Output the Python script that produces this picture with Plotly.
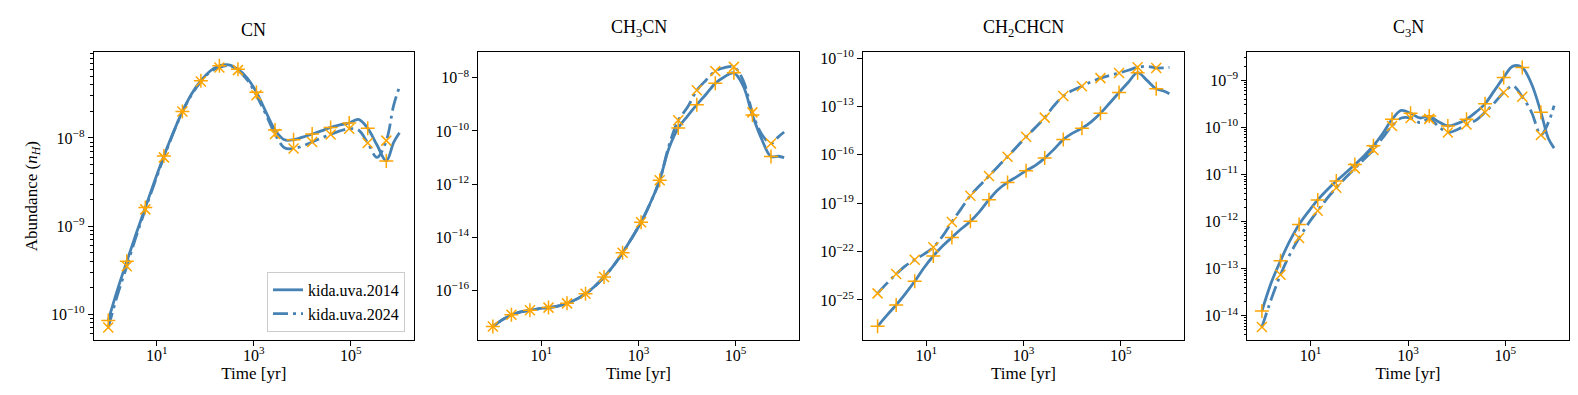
import numpy as np
import plotly.graph_objects as go

# temps (yr) ; marqueurs sur un point sur deux
time = [1, 1.55, 2.41, 3.74, 5.8, 9.0, 14, 21.7, 33.7, 52, 81, 126, 195, 303, 470, 730,
        1130, 1760, 2730, 4240, 6580, 10200, 15900, 24600, 38200, 59400, 92200,
        143000, 222000, 345000, 536000, 760000, 1000000]

# log10 des abondances
cn_2014 = [-10.07, -9.72, -9.40, -9.09, -8.79, -8.49, -8.205, -7.94, -7.70, -7.50, -7.35,
           -7.24, -7.18, -7.17, -7.22, -7.32, -7.48, -7.70, -7.91, -8.02, -8.02, -7.99,
           -7.955, -7.92, -7.88, -7.85, -7.83, -7.79, -7.89, -8.08, -8.26, -8.05, -7.94]
cn_2024 = [-10.15, -9.78, -9.455, -9.12, -8.81, -8.51, -8.22, -7.95, -7.70, -7.51, -7.36,
           -7.25, -7.20, -7.18, -7.23, -7.34, -7.515, -7.73, -7.955, -8.11, -8.12, -8.09,
           -8.045, -8.00, -7.96, -7.92, -7.895, -7.91, -8.056, -8.22, -8.03, -7.63, -7.42]

ch3cn_2014 = [-17.35, -17.10, -16.91, -16.80, -16.74, -16.68, -16.64, -16.58, -16.48, -16.33,
              -16.12, -15.84, -15.49, -15.07, -14.58, -14.02, -13.43, -12.70, -11.85, -10.65,
              -9.89, -9.44, -9.01, -8.62, -8.21, -7.96, -7.815, -8.30, -9.40, -10.31, -10.96,
              -10.95, -11.0]
ch3cn_2024 = [-17.35, -17.10, -16.91, -16.80, -16.74, -16.68, -16.64, -16.58, -16.48, -16.33,
              -16.12, -15.84, -15.49, -15.07, -14.58, -14.02, -13.43, -12.70, -11.85, -10.55,
              -9.60, -9.11, -8.47, -8.09, -7.75, -7.62, -7.59, -8.10, -9.30, -10.12, -10.47,
              -10.22, -10.04]

ch2chcn_2014 = [-26.63, -25.95, -25.31, -24.6, -23.84, -23.0, -22.27, -21.65, -21.12, -20.6,
                -20.12, -19.5, -18.78, -18.15, -17.71, -17.35, -16.98, -16.65, -16.2, -15.65,
                -15.05, -14.65, -14.35, -13.95, -13.42, -12.78, -12.13, -11.5, -10.9, -11.38,
                -11.90, -12.04, -12.21]
ch2chcn_2024 = [-24.59, -23.97, -23.39, -22.88, -22.51, -22.16, -21.73, -21.04, -20.16, -19.35,
                -18.53, -17.9, -17.31, -16.7, -16.12, -15.5, -14.88, -14.3, -13.69, -12.95,
                -12.35, -12.0, -11.74, -11.47, -11.24, -11.07, -10.92, -10.75, -10.57, -10.51,
                -10.61, -10.6, -10.57]

c3n_2014 = [-13.90, -13.30, -12.83, -12.41, -12.06, -11.79, -11.54, -11.33, -11.14, -10.97,
            -10.79, -10.60, -10.39, -10.13, -9.83, -9.64, -9.70, -9.80, -9.76, -9.88, -9.97,
            -9.92, -9.83, -9.68, -9.50, -9.22, -8.94, -8.70, -8.73, -9.08, -9.68, -10.23, -10.44]
c3n_2024 = [-14.24, -13.65, -13.13, -12.70, -12.35, -12.04, -11.77, -11.51, -11.28, -11.07,
            -10.87, -10.67, -10.48, -10.22, -9.97, -9.80, -9.80, -9.90, -9.82, -9.98, -10.11,
            -10.05, -9.94, -9.85, -9.68, -9.48, -9.26, -9.12, -9.35, -9.68, -10.16, -9.90, -9.54]

especes = ["CN", "CH<sub>3</sub>CN", "CH<sub>2</sub>CHCN", "C<sub>3</sub>N"]
series = [(cn_2014, cn_2024), (ch3cn_2014, ch3cn_2024),
          (ch2chcn_2014, ch2chcn_2024), (c3n_2014, c3n_2024)]
y_ticks = [[-10, -9, -8], [-16, -14, -12, -10, -8],
           [-25, -22, -19, -16, -13, -10], [-14, -13, -12, -11, -10, -9]]
y_ranges = [[-10.29, -7.03], [-17.85, -7.05], [-27.47, -9.65], [-14.51, -8.41]]
x_ticks = [1, 3, 5]

W, H = 1578, 395
boxes = [(85.7, 406.0), (470.3, 790.7), (855.0, 1176.0), (1239.3, 1560.7)]
y_dom = [1 - 331 / H, 1 - 40 / H]

bleu = "#4682B4"
orange = "orange"
police = "Liberation Serif"

fig = go.Figure()

for i, (nom, (s14, s24)) in enumerate(zip(especes, series)):
    xa = "x" if i == 0 else "x%d" % (i + 1)
    ya = "y" if i == 0 else "y%d" % (i + 1)
    y14 = [10 ** v for v in s14]
    y24 = [10 ** v for v in s24]
    fig.add_trace(go.Scatter(x=time, y=y14, mode="lines", name="kida.uva.2014",
                             line=dict(color=bleu, width=2.8, shape="spline", smoothing=1),
                             showlegend=(i == 0), xaxis=xa, yaxis=ya))
    fig.add_trace(go.Scatter(x=time, y=y24, mode="lines", name="kida.uva.2024",
                             line=dict(color=bleu, width=2.8, shape="spline", smoothing=1,
                                       dash="15px,5px,3px,5px"),
                             showlegend=(i == 0), xaxis=xa, yaxis=ya))
    fig.add_trace(go.Scatter(x=time[0:31:2], y=y14[0:31:2], mode="markers", showlegend=False,
                             marker=dict(symbol="cross-thin", size=10, line=dict(color=orange, width=1.5)),
                             xaxis=xa, yaxis=ya))
    fig.add_trace(go.Scatter(x=time[0:31:2], y=y24[0:31:2], mode="markers", showlegend=False,
                             marker=dict(symbol="x-thin", size=10, line=dict(color=orange, width=1.5)),
                             xaxis=xa, yaxis=ya))

    x0, x1 = boxes[i]
    suffixe = "" if i == 0 else str(i + 1)
    minor = {}
    if i in (0, 3):
        mv = [k * 10.0 ** n for n in range(-15, -6) for k in range(2, 10)]
        minor = dict(tickvals=mv, ticks="outside", ticklen=2.5, tickcolor="black", tickwidth=0.8)
    fig.layout["xaxis" + suffixe] = dict(
        domain=[x0 / W, x1 / W], anchor=ya, type="log", range=[-0.3, 6.3],
        tickvals=[10 ** e for e in x_ticks], ticktext=["10<sup>%d</sup>" % e for e in x_ticks],
        ticks="outside", ticklen=5, tickcolor="black", showgrid=False, zeroline=False,
        showline=True, mirror=True, linecolor="black", linewidth=1, ticklabelstandoff=-4,
        title=dict(text="Time [yr]", font=dict(size=17, family=police, color="black"), standoff=0),
        tickfont=dict(size=16, family=police, color="black"))
    fig.layout["yaxis" + suffixe] = dict(
        domain=y_dom, anchor=xa, type="log", range=y_ranges[i],
        tickvals=[10.0 ** e for e in y_ticks[i]],
        ticktext=["10<sup>\u2212%d</sup>" % (-e) for e in y_ticks[i]],
        ticks="outside", ticklen=5, tickcolor="black", showgrid=False, zeroline=False,
        showline=True, mirror=True, linecolor="black", linewidth=1, minor=minor,
        tickfont=dict(size=16, family=police, color="black"))
    fig.add_annotation(text=nom, xref="paper", yref="paper", x=(x0 + x1) / 2 / W, y=y_dom[1],
                       xanchor="center", yanchor="bottom", yshift=10, showarrow=False,
                       font=dict(size=18, family=police, color="black"))

fig.layout.yaxis.title = dict(text="Abundance (<i>n<sub>H</sub></i>)",
                              font=dict(size=17, family=police, color="black"), standoff=9)

fig.update_layout(
    width=W, height=H, margin=dict(l=0, r=0, t=0, b=0),
    plot_bgcolor="white", paper_bgcolor="white",
    font=dict(family=police, color="black"),
    legend=dict(x=397 / W, y=1 - 323 / H, xanchor="right", yanchor="bottom",
                bgcolor="rgba(255,255,255,0.8)", bordercolor="#cccccc", borderwidth=1,
                font=dict(size=16, family=police, color="black"), tracegroupgap=0),
)

fig.write_html("out.html")
